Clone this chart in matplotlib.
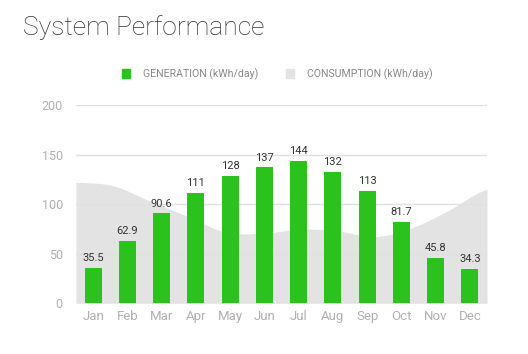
import numpy as np
import matplotlib
matplotlib.use("Agg")
import matplotlib.pyplot as plt
from matplotlib.patches import Patch

months = ['Jan', 'Feb', 'Mar', 'Apr', 'May', 'Jun', 'Jul', 'Aug', 'Sep', 'Oct', 'Nov', 'Dec']
generation = [35.5, 62.9, 90.6, 111, 128, 137, 144, 132, 113, 81.7, 45.8, 34.3]
gen_labels = ['35.5', '62.9', '90.6', '111', '128', '137', '144', '132', '113', '81.7', '45.8', '34.3']
# consumption points are spread evenly from left edge to right edge of the plot
consumption = [122, 118.5, 102.7, 87.5, 71.7, 70.7, 74.7, 73, 67.3, 76.4, 94.3, 115]
y_ticks = [0, 50, 100, 150, 200]

GREEN = '#2bc21e'
AREA = '#e3e3e3'
GRID = '#e0e0e0'
TICK = '#b0b0b0'


def smooth(x, y, n=40):
    # catmull-rom spline through the points, only for drawing
    x = np.asarray(x, float)
    y = np.asarray(y, float)
    px = np.concatenate([[x[0]], x, [x[-1]]])
    py = np.concatenate([[y[0]], y, [y[-1]]])
    xs, ys = [], []
    t = np.linspace(0, 1, n)
    for i in range(1, len(px) - 2):
        p0, p1, p2, p3 = py[i - 1], py[i], py[i + 1], py[i + 2]
        xs.append(px[i] + (px[i + 1] - px[i]) * t)
        ys.append(0.5 * ((2 * p1) + (-p0 + p2) * t
                         + (2 * p0 - 5 * p1 + 4 * p2 - p3) * t ** 2
                         + (-p0 + 3 * p1 - 3 * p2 + p3) * t ** 3))
    return np.concatenate(xs), np.concatenate(ys)


plt.rcParams['font.family'] = ['Roboto', 'DejaVu Sans']

fig = plt.figure(figsize=(5.28, 3.54), dpi=100)
ax = fig.add_axes([76 / 528, 1 - 303.3 / 354, 411 / 528, 198.3 / 354])

x = np.arange(len(months))
cx = np.linspace(-0.5, len(months) - 0.5, len(consumption))
sx, sy = smooth(cx, consumption)
ax.fill_between(sx, 0, sy, color=AREA, lw=0, zorder=1)

for v in y_ticks:
    ax.axhline(v, color=GRID, lw=1, zorder=1.5)

bars = ax.bar(x, generation, width=0.49, color=GREEN, zorder=2)
for xi, v, lab in zip(x, generation, gen_labels):
    ax.text(xi, v + 5, lab, ha='center', va='bottom', fontsize=8, color='#333333')

ax.set_xlim(-0.5, len(months) - 0.5)
ax.set_ylim(0, 200)
ax.set_yticks(y_ticks)
ax.set_xticks(x)
ax.set_xticklabels(months)
ax.tick_params(axis='both', length=0, colors=TICK, labelsize=9.5)
ax.tick_params(axis='y', pad=9.5, labelsize=9)
ax.tick_params(axis='x', pad=5)
for s in ax.spines.values():
    s.set_visible(False)

fig.text(23 / 528, 1 - 35 / 354, 'System Performance', fontsize=19,
         fontweight='light', color='#333333', ha='left', va='baseline')

handles = [Patch(color=GREEN), Patch(color=AREA)]
fig.legend(handles, ['GENERATION (kWh/day)', 'CONSUMPTION (kWh/day)'],
           loc='center', bbox_to_anchor=(277 / 528, 1 - 74 / 354), ncol=2,
           frameon=False, fontsize=7.6, labelcolor='#888888',
           handlelength=0.8, handleheight=0.8, handletextpad=1.2,
           columnspacing=2.6)

fig.savefig('out.png', dpi=100, facecolor='white')
